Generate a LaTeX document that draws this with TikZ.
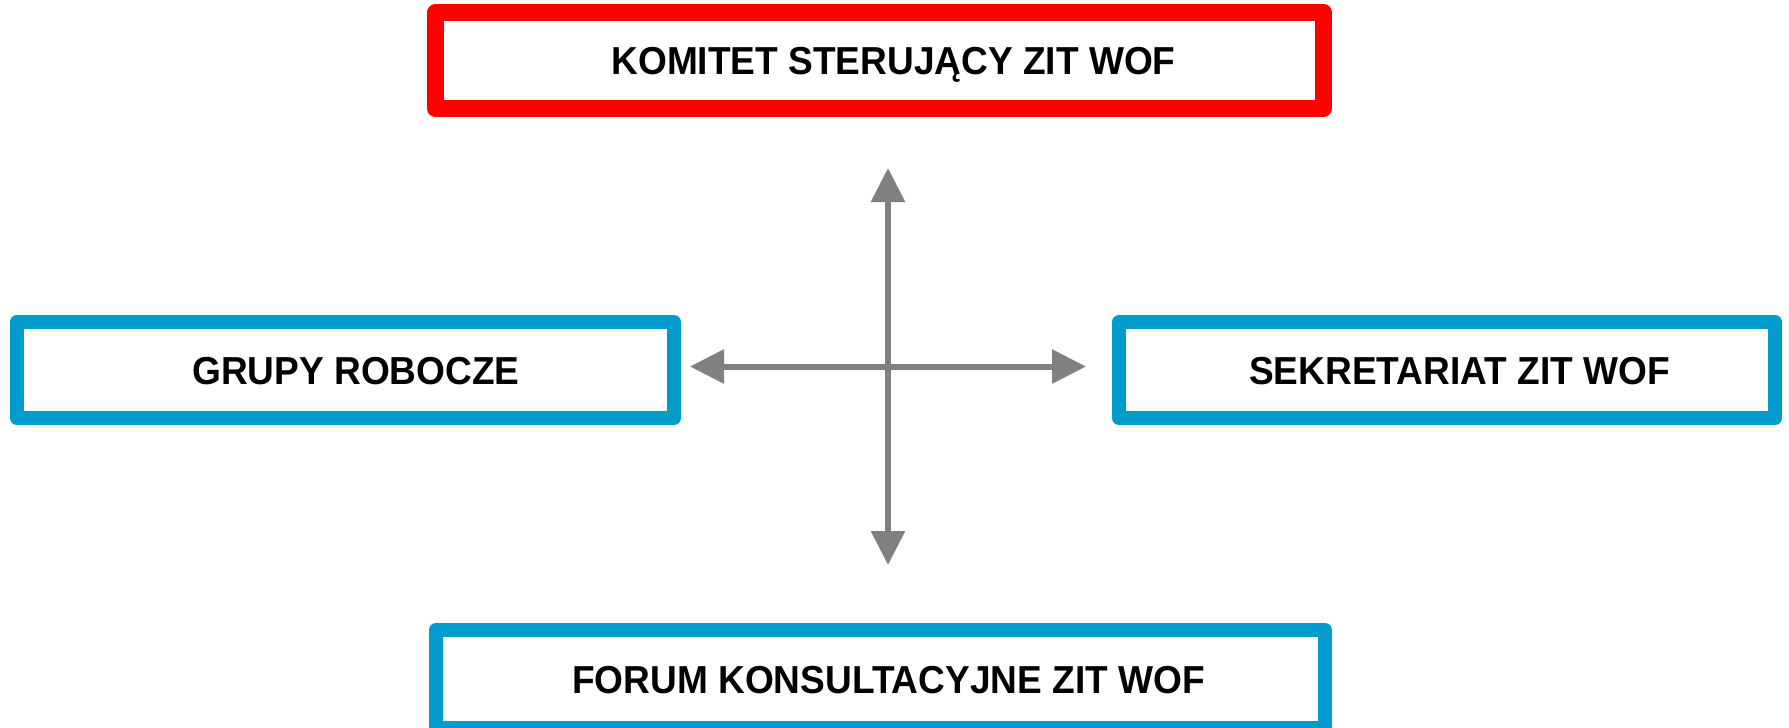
\documentclass[tikz,border=0pt]{standalone}
\usepackage{fontspec}
\usepackage{graphicx}
\setmainfont{Liberation Sans}
\usetikzlibrary{arrows.meta}
\definecolor{boxred}{HTML}{FF0000}
\definecolor{boxblue}{HTML}{009CCD}
\definecolor{arrgray}{HTML}{808080}
\newcommand{\boxlabel}[2]{\hspace*{#1pt}\scalebox{0.95}[1]{#2}}
\tikzset{
  orgbox/.style={draw, fill=white, line join=round, inner sep=0pt,
    font=\fontsize{39}{47}\selectfont\bfseries, text height=28pt, text depth=0pt},
  redbox/.style={orgbox, draw=boxred, line width=17pt},
  bluebox/.style={orgbox, draw=boxblue, line width=14pt},
  cross/.style={draw=arrgray, line width=6pt,
    {Triangle[length=34pt,width=33pt]}-{Triangle[length=34pt,width=33pt]}}
}
\begin{document}
\begin{tikzpicture}[x=1pt,y=-1pt]
\useasboundingbox (0,0) rectangle (1789,728);
\begin{scope}
\clip (0,0) rectangle (1789,728);
\node[redbox, minimum width=888pt, minimum height=96pt] (komitet) at (879.5,60.5)
  {\boxlabel{28}{KOMITET STERUJĄCY ZIT WOF}};
\node[bluebox, minimum width=657pt, minimum height=96pt] (grupy) at (345.5,370)
  {\boxlabel{21}{GRUPY ROBOCZE}};
\node[bluebox, minimum width=656pt, minimum height=96pt] (sekretariat) at (1447,370)
  {\boxlabel{25}{SEKRETARIAT ZIT WOF}};
\node[bluebox, minimum width=889pt, minimum height=98pt] (forum) at (880.5,679)
  {\boxlabel{16}{FORUM KONSULTACYJNE ZIT WOF}};
\end{scope}
\coordinate (up) at (888,168);
\coordinate (down) at (888,565);
\coordinate (leftend) at (690,366.5);
\coordinate (rightend) at (1086,366.5);
\draw[cross] (down) -- (up);
\draw[cross] (leftend) -- (rightend);
\end{tikzpicture}
\end{document}
